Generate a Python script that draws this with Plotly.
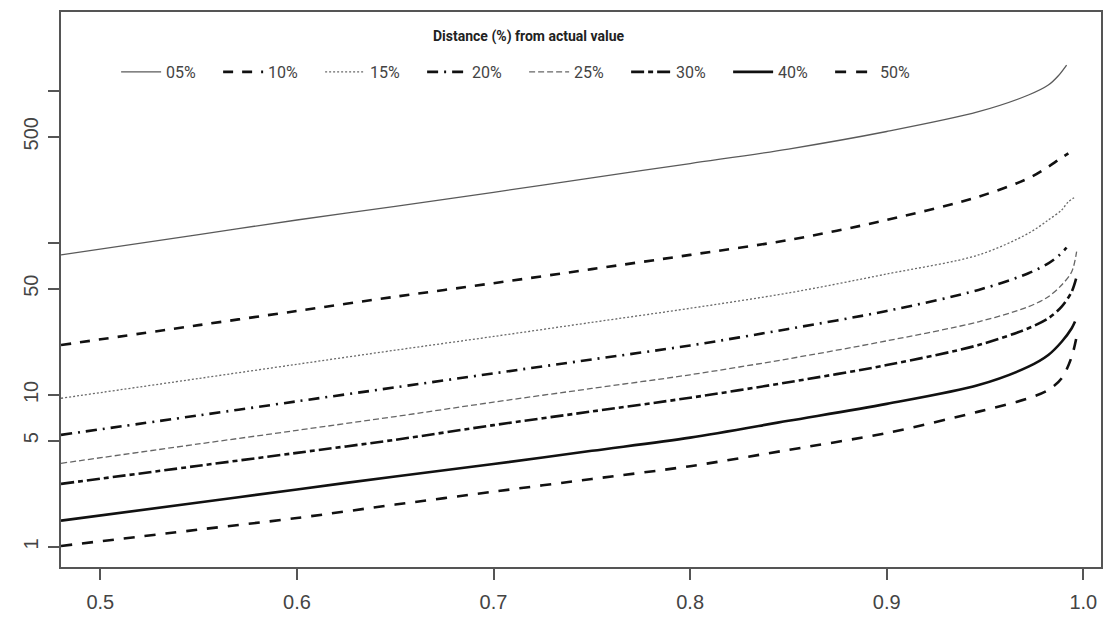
import plotly.graph_objects as go

# ---- data (x = proportion, y = required value, log axis) ----
x_base = [0.48, 0.55, 0.60, 0.65, 0.70, 0.75, 0.80, 0.85, 0.90, 0.9467, 0.9721, 0.9822]

x_05 = x_base + [0.9873, 0.9915]
y_05 = [83.4, 113.7, 141.7, 174.3, 215.6, 268, 333.4, 415.3, 541.6, 730.9, 941.2, 1095, 1261, 1483]

x_10 = x_base + [0.9873, 0.9924]
y_10 = [21.3, 28.8, 35.7, 44.3, 54.4, 67.3, 83.5, 104.6, 141.7, 201.7, 266.6, 317.7, 351.6, 389]

x_15 = x_base + [0.9890, 0.9924, 0.9953]
y_15 = [9.51, 12.84, 15.92, 19.71, 24.26, 30.04, 37.18, 46.9, 62.5, 83.4, 115.8, 141.7, 164.9, 187.0, 198.6]

x_20 = x_base + [0.9873, 0.9915]
y_20 = [5.46, 7.34, 9.08, 11.22, 13.87, 17.13, 21.17, 27.2, 35.7, 49.1, 63.2, 73.5, 82.1, 93.1]

x_25 = x_base + [0.9890, 0.9941, 0.9966]
y_25 = [3.55, 4.76, 5.85, 7.21, 8.97, 11.04, 13.58, 17.3, 22.7, 30.3, 38.1, 44.3, 52.9, 64.7, 87.6]

x_30 = x_base + [0.9890, 0.9941, 0.9966]
y_30 = [2.60, 3.42, 4.16, 5.07, 6.33, 7.79, 9.59, 12.13, 15.73, 21.3, 27.5, 31.96, 38.1, 47.8, 60.0]

x_40 = x_base + [0.9890, 0.9941, 0.9958]
y_40 = [1.49, 1.96, 2.39, 2.91, 3.51, 4.29, 5.24, 6.76, 8.74, 11.63, 15.36, 18.33, 22.4, 27.5, 30.4]

x_50 = x_base + [0.9890, 0.9941, 0.9971]
y_50 = [1.015, 1.30, 1.55, 1.90, 2.31, 2.80, 3.40, 4.35, 5.62, 7.77, 9.51, 10.79, 12.88, 17.87, 26.1]

series_names = ["05%", "10%", "15%", "20%", "25%", "30%", "40%", "50%"]
x_tick_vals = [0.5, 0.6, 0.7, 0.8, 0.9, 1.0]
x_tick_text = ["0.5", "0.6", "0.7", "0.8", "0.9", "1.0"]
y_tick_vals = [1, 5, 10, 50, 100, 500, 1000]
y_tick_text = ["1", "5", "10", "50", "", "500", ""]
legend_title = "Distance (%) from actual value"

xs = [x_05, x_10, x_15, x_20, x_25, x_30, x_40, x_50]
ys = [y_05, y_10, y_15, y_20, y_25, y_30, y_40, y_50]

styles = [
    dict(color="#5a5a5a", width=1.3, dash="solid"),
    dict(color="#111111", width=2.6, dash="10px,9px"),
    dict(color="#6a6a6a", width=1.3, dash="2px,2px"),
    dict(color="#111111", width=2.6, dash="11px,6px,2px,6px"),
    dict(color="#666666", width=1.3, dash="6px,3px"),
    dict(color="#111111", width=2.6, dash="13px,4px,5px,4px"),
    dict(color="#111111", width=2.6, dash="solid"),
    dict(color="#111111", width=2.6, dash="11px,10px"),
]

fig = go.Figure()
for name, x, y, st in zip(series_names, xs, ys, styles):
    fig.add_trace(go.Scatter(x=x, y=y, mode="lines", name=name,
                             line=dict(shape="spline", smoothing=0.9, **st)))

tick_font = dict(family="Arial, Liberation Sans, sans-serif", size=20, color="#444444")
axis_common = dict(showline=True, mirror=True, linecolor="#555555", linewidth=1.5,
                   ticks="outside", ticklen=11, tickwidth=1.5, tickcolor="#555555",
                   showgrid=False, zeroline=False, tickfont=tick_font)

fig.update_xaxes(range=[0.48, 1.009], tickvals=x_tick_vals, ticktext=x_tick_text,
                 ticklabelstandoff=5, **axis_common)
fig.update_yaxes(type="log", range=[-0.132, 3.52], tickvals=y_tick_vals, ticktext=y_tick_text,
                 tickangle=-90, ticklabelstandoff=2, **axis_common)

fig.add_annotation(x=0.45, y=0.955, xref="paper", yref="paper", text="<b>" + legend_title + "</b>",
                   showarrow=False, xanchor="center", yanchor="middle",
                   font=dict(family="Roboto, sans-serif", size=14, color="#222222"))

fig.update_layout(
    width=1111, height=621,
    margin=dict(l=61, r=8, t=12, b=54),
    paper_bgcolor="white", plot_bgcolor="white",
    showlegend=True,
    legend=dict(orientation="h", x=0.053, y=0.892, xanchor="left", yanchor="middle",
                bgcolor="rgba(0,0,0,0)", itemwidth=40,
                entrywidth=47, entrywidthmode="pixels",
                font=dict(family="Roboto, sans-serif", size=16, color="#444444")),
)

fig.write_html("out.html")
